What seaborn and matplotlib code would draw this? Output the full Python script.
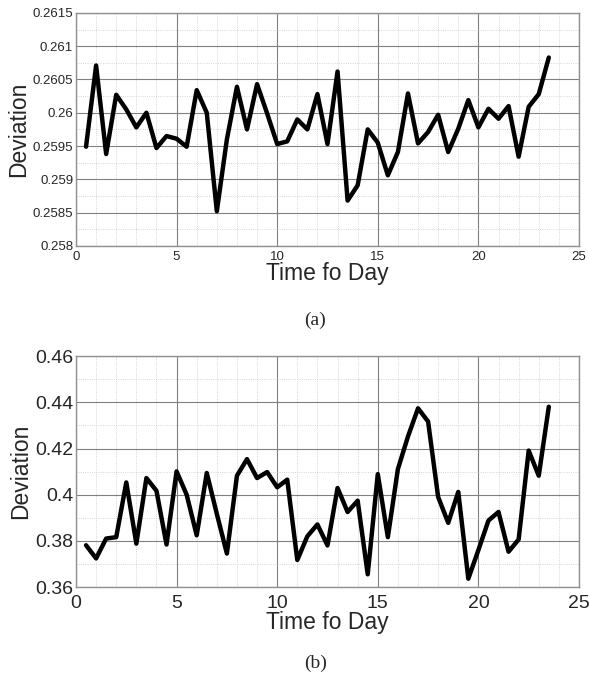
import numpy as np
import pandas as pd
import matplotlib
matplotlib.use("Agg")
import matplotlib.pyplot as plt
import seaborn as sns
from matplotlib.ticker import MultipleLocator, FuncFormatter

# hour of day, half-hour steps
hours = [0.5 * i for i in range(1, 48)]

# (a) deviation
dev_a = [0.25949, 0.26071, 0.25938, 0.26027, 0.26005, 0.25978, 0.26000, 0.25947,
         0.25965, 0.25961, 0.25949, 0.26034, 0.26000, 0.25852, 0.25960, 0.26039,
         0.25975, 0.26043, 0.25999, 0.25953, 0.25957, 0.25990, 0.25975, 0.26028,
         0.25953, 0.26062, 0.25868, 0.25891, 0.25975, 0.25955, 0.25906, 0.25941,
         0.26029, 0.25954, 0.25971, 0.25997, 0.25941, 0.25976, 0.26019, 0.25978,
         0.26006, 0.25991, 0.26010, 0.25934, 0.26009, 0.26028, 0.26083]

# (b) deviation
dev_b = [0.3781, 0.3724, 0.3810, 0.3816, 0.4053, 0.3788, 0.4072, 0.4017,
         0.3784, 0.4101, 0.4000, 0.3824, 0.4094, 0.3917, 0.3745, 0.4082,
         0.4154, 0.4072, 0.4098, 0.4032, 0.4065, 0.3717, 0.3820, 0.3871,
         0.3780, 0.4029, 0.3925, 0.3974, 0.3655, 0.4089, 0.3816, 0.4111,
         0.4252, 0.4374, 0.4317, 0.3990, 0.3878, 0.4012, 0.3636, 0.3760,
         0.3888, 0.3925, 0.3753, 0.3806, 0.4191, 0.4082, 0.4381]

sns.set_style("white")
plt.rcParams['font.family'] = ['Liberation Sans', 'DejaVu Sans']

fig = plt.figure(figsize=(5.89, 6.81), dpi=100)
ax_a = fig.add_axes([0.129, 0.639, 0.854, 0.342])
ax_b = fig.add_axes([0.129, 0.138, 0.854, 0.339])

fmt = FuncFormatter(lambda v, p: "%g" % round(v, 6))

# axes, values, ylim, major step, minor step, tick size, x pad, caption, caption y
panels = [
    (ax_a, dev_a, (0.258, 0.2615), 0.0005, 0.00025, 9.5, 4, "(a)", 0.529),
    (ax_b, dev_b, (0.36, 0.46), 0.02, 0.01, 14, 6, "(b)", 0.026),
]

for ax, vals, ylim, major, minor, tsize, xpad, cap, cap_y in panels:
    df = pd.DataFrame({"Time fo Day": hours, "Deviation": vals})
    sns.lineplot(data=df, x="Time fo Day", y="Deviation", ax=ax,
                 color="black", linewidth=3.2)
    ax.set_xlim(0, 25)
    ax.set_ylim(*ylim)
    ax.xaxis.set_major_locator(MultipleLocator(5))
    ax.xaxis.set_minor_locator(MultipleLocator(1))
    ax.yaxis.set_major_locator(MultipleLocator(major))
    ax.yaxis.set_minor_locator(MultipleLocator(minor))
    ax.yaxis.set_major_formatter(fmt)
    ax.grid(which="major", color="#808080", linewidth=0.8, linestyle="-")
    ax.grid(which="minor", color="#c8c8c8", linewidth=0.6, linestyle=":")
    ax.set_axisbelow(True)
    for s in ax.spines.values():
        s.set_color("#909090")
        s.set_linewidth(1.0)
    ax.tick_params(which="both", length=0, labelsize=tsize)
    ax.tick_params(axis="x", pad=xpad)
    ax.tick_params(axis="y", pad=2)
    ax.set_xlabel("Time fo Day", fontsize=16.5, labelpad=-1)
    ax.set_ylabel("Deviation", fontsize=16.5, labelpad=2)
    fig.text(0.535, cap_y, cap, ha="center", va="center",
             family=["Liberation Serif", "DejaVu Serif"], fontsize=14)

fig.savefig("out.png", dpi=100)
